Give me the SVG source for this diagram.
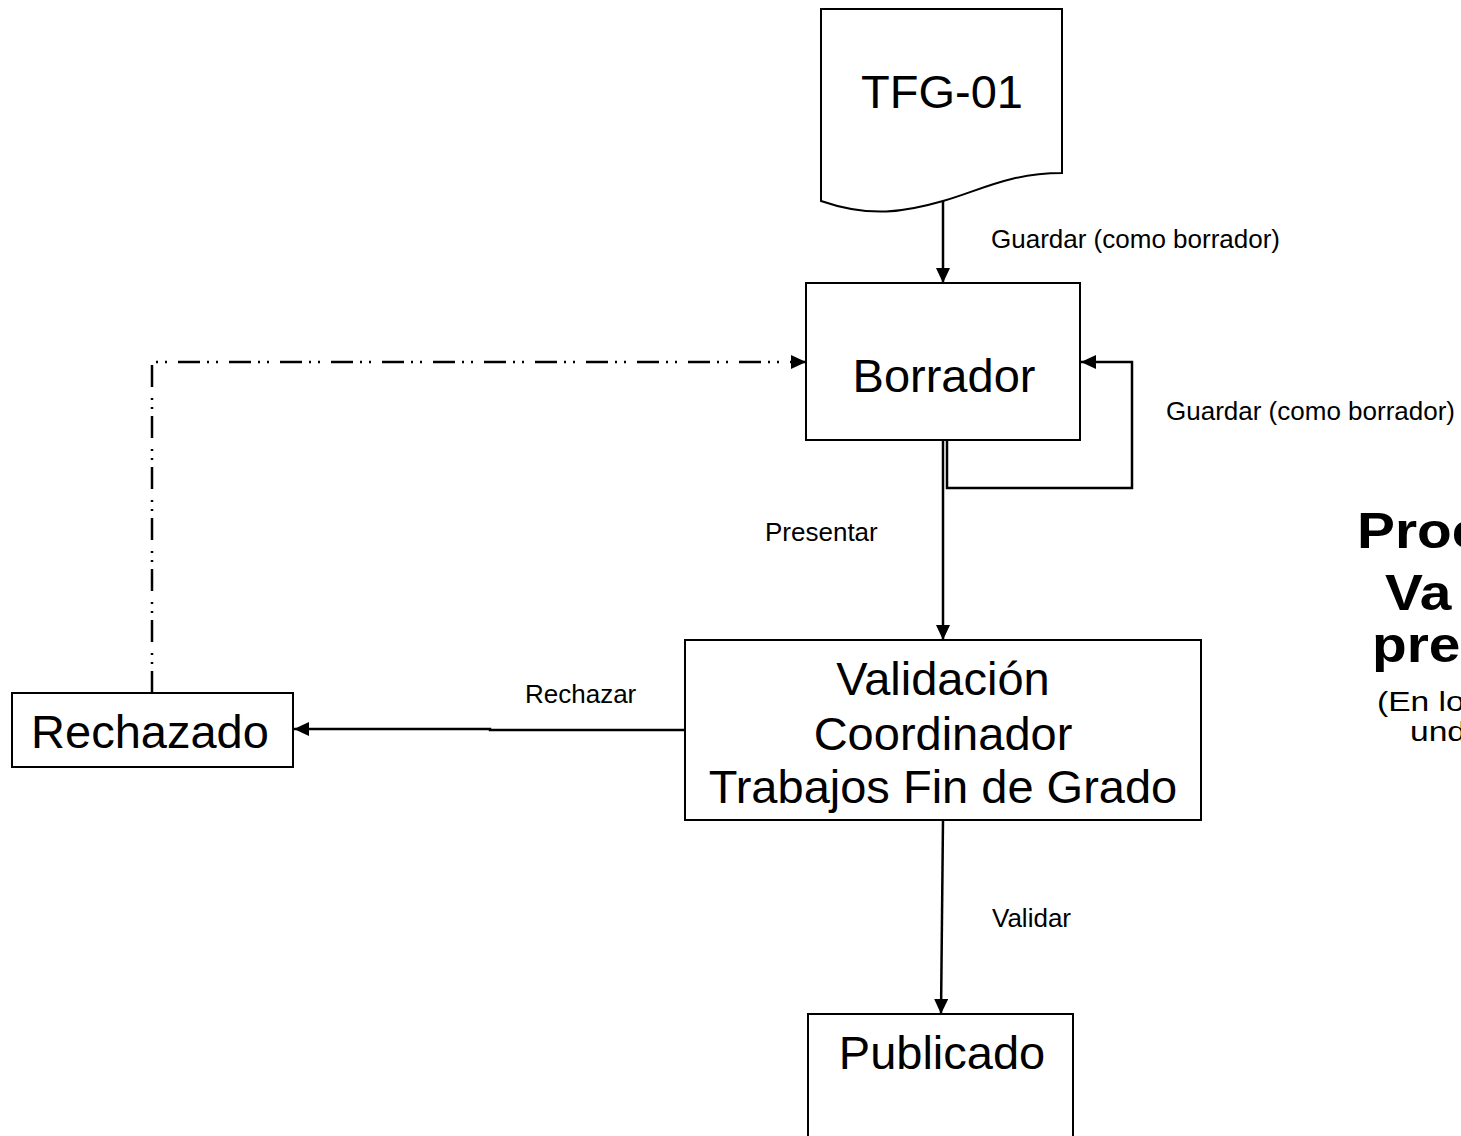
<svg xmlns="http://www.w3.org/2000/svg" width="1461" height="1136" viewBox="0 0 1461 1136">
<style>
.node{fill:#fff;stroke:#000;stroke-width:2}
.big{font-family:"Liberation Sans",Arial,sans-serif;font-size:47px;fill:#000;text-anchor:middle}
.lbl{font-family:"Liberation Sans",Arial,sans-serif;font-size:26px;fill:#000}
.title{font-family:"Liberation Sans",Arial,sans-serif;font-size:49px;font-weight:bold;fill:#000}
.sub{font-family:"Liberation Sans",Arial,sans-serif;font-size:28px;fill:#000}
.edge{fill:none;stroke:#000;stroke-width:2.5}
.dashdot{stroke-dasharray:22 7 2 7 2 11}
</style>
<defs>
<marker id="arr" viewBox="0 0 15 14" refX="15" refY="7" markerWidth="15" markerHeight="14" orient="auto" markerUnits="userSpaceOnUse">
<path d="M0,0 L15,7 L0,14 Z" fill="#000"/>
</marker>
</defs>
<rect width="1461" height="1136" fill="#fff"/>
<g id="connectors">
<path class="edge" d="M943,201 V283" marker-end="url(#arr)"/>
<path class="edge" d="M947,440 V488 H1132 V362 H1081" marker-end="url(#arr)"/>
<path class="edge" d="M943,440 V640" marker-end="url(#arr)"/>
<path class="edge" d="M685,730 H490 V729 H294" marker-end="url(#arr)"/>
<path class="edge" d="M943,820 L941,1014" marker-end="url(#arr)"/>
<path class="edge dashdot" d="M152,693 V362 H806" marker-end="url(#arr)"/>
</g>
<g id="labels">
<text class="lbl" x="991" y="248">Guardar (como borrador)</text>
<text class="lbl" x="1166" y="420">Guardar (como borrador)</text>
<text class="lbl" x="765" y="541">Presentar</text>
<text class="lbl" x="525" y="703">Rechazar</text>
<text class="lbl" x="992" y="927">Validar</text>
</g>
<g id="tfg01">
<path class="node" d="M821,9 H1062 V173 C1010,173 981,190 943,201 C905,212 870,218 821,201 Z"/>
<text class="big" x="942" y="108">TFG-01</text>
</g>
<g id="borrador">
<rect class="node" x="806" y="283" width="274" height="157"/>
<text class="big" x="944" y="392">Borrador</text>
</g>
<g id="validacion">
<rect class="node" x="685" y="640" width="516" height="180"/>
<text class="big" x="943" y="695">Validación</text>
<text class="big" x="943" y="750">Coordinador</text>
<text class="big" x="943" y="803">Trabajos Fin de Grado</text>
</g>
<g id="rechazado">
<rect class="node" x="12" y="693" width="281" height="74"/>
<text class="big" x="150" y="748">Rechazado</text>
</g>
<g id="publicado">
<rect class="node" x="808" y="1014" width="265" height="140"/>
<text class="big" x="942" y="1069">Publicado</text>
</g>
<g id="titulo">
<text class="title" transform="translate(1357,548) scale(1.16,1)">Proc</text>
<text class="title" transform="translate(1385,610) scale(1.16,1)">Va</text>
<text class="title" transform="translate(1372,662) scale(1.16,1)">pre</text>
<text class="sub" transform="translate(1377,711) scale(1.2,1)">(En lo</text>
<text class="sub" transform="translate(1410,741) scale(1.2,1)">und</text>
</g>
</svg>
